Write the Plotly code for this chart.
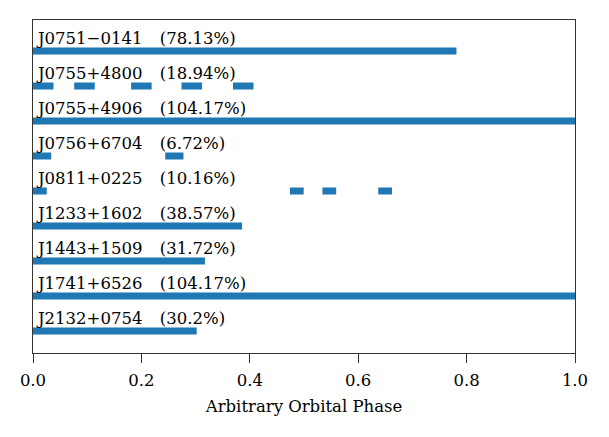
import plotly.graph_objects as go

names = ["J0751\u22120141", "J0755+4800", "J0755+4906", "J0756+6704", "J0811+0225",
         "J1233+1602", "J1443+1509", "J1741+6526", "J2132+0754"]
pct_labels = ["78.13", "18.94", "104.17", "6.72", "10.16", "38.57", "31.72", "104.17", "30.2"]
coverage = [0.7813, 0.1894, 1.0417, 0.0672, 0.1016, 0.3857, 0.3172, 1.0417, 0.302]
seg_starts = [
    [0.0],
    [0.0, 0.076, 0.181, 0.274, 0.369],
    [0.0],
    [0.0, 0.244],
    [0.0, 0.474, 0.534, 0.637],
    [0.0],
    [0.0],
    [0.0],
    [0.0],
]
x_ticks = [0.0, 0.2, 0.4, 0.6, 0.8, 1.0]

color = "#1f77b4"
serif = "DejaVu Serif"
n = len(names)

fig = go.Figure()
annotations = []
for i, (name, pct, cov, starts) in enumerate(zip(names, pct_labels, coverage, seg_starts)):
    yv = n - i
    w = cov / len(starts)
    xs, ys = [], []
    for s in starts:
        xs += [s, s + w, None]
        ys += [yv, yv, None]
    fig.add_trace(go.Scatter(x=xs, y=ys, mode="lines",
                             line=dict(color=color, width=7),
                             hoverinfo="skip", showlegend=False))
    annotations.append(dict(x=0.0, y=yv + 0.37, xref="x", yref="y", xshift=1,
                            text=f"{name}\u00a0\u00a0\u00a0\u200a({pct}%)",
                            showarrow=False, xanchor="left", yanchor="middle",
                            font=dict(family=serif, size=16.5, color="black")))

fig.update_layout(
    width=609, height=437,
    margin=dict(l=25, r=42, t=12, b=92),
    paper_bgcolor="white", plot_bgcolor="white",
    annotations=annotations,
    xaxis=dict(range=[0, 1], tickvals=x_ticks, ticktext=[f"{t:.1f}" for t in x_ticks],
               ticks="outside", ticklen=9, tickcolor="#333", tickwidth=1,
               ticklabelstandoff=3,
               showgrid=False, zeroline=False, showline=True, linecolor="#333",
               linewidth=1, mirror=True,
               tickfont=dict(family=serif, size=16.5, color="black"),
               title=dict(text="Arbitrary Orbital Phase",
                          font=dict(family=serif, size=16.5, color="black"),
                          standoff=11)),
    yaxis=dict(range=[0.371, 9.886], showticklabels=False, ticks="",
               showgrid=False, zeroline=False, showline=True, linecolor="#333",
               linewidth=1, mirror=True),
)

fig.write_html("out.html")
